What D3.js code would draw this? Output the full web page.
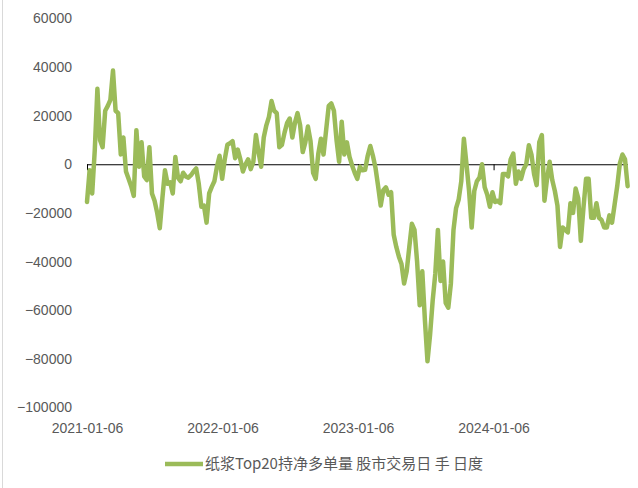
<!DOCTYPE html>
<html>
<head>
<meta charset="utf-8">
<script src="https://cdn.jsdelivr.net/npm/d3@7"></script>
<style>
    body { margin: 0; background: #fff; }
    text { font-family: "Liberation Sans", Arial, sans-serif; fill: #595959; }
</style>
</head>
<body>
<svg id="chart" width="638" height="488"></svg>
<script>
// Series name (legend)
var seriesName = "纸浆Top20持净多单量 股市交易日 手 日度";

// Weekly readings, starting 2021-01-06
var startDate = "2021-01-06";
var endDate = "2025-01-02";
var stepDays = 7;
var netLong = [
    -15500, -2500, -12000, 6000, 31000, 10000, 7000, 22000, 24000, 26500,
    38500, 22000, 21000, 4000, 11000, -3000, -6000, -9000, -13000, 14000,
    -1000, 9000, -5000, -6500, 7000, -12000, -15000, -20000, -26300, -14000,
    -2500, -8000, -7400, -12000, 3000, -5500, -7000, -3500, -5000, -5500,
    -4500, -3000, -1700, -8000, -17500, -17000, -24000, -12000, -9300, -7000,
    -1000, 3500, -6000, 2000, 8000, 8600, 9500, 2500, 6000, 2000,
    -3000, 0, 2000, -2000, 1000, 12000, 5000, -1000, 11000, 16000,
    19500, 26000, 22000, 21000, 7000, 8000, 13000, 17000, 18800, 11000,
    17000, 21000, 16000, 5000, 9000, 15500, 9500, -3500, -6000, 4400,
    10500, 4000, 14000, 24000, 25000, 22000, 10000, 1000, 17500, 4000,
    9000, 3000, -500, -3500, -6000, -1000, -2500, -2300, 3500, 7500,
    3500, -1500, -9000, -17000, -10700, -9500, -12500, -11500, -29000, -34000,
    -38000, -41000, -49000, -44000, -34000, -24500, -27000, -40000, -58000, -44000,
    -64000, -81000, -70000, -56000, -45000, -27000, -48000, -40000, -57000, -59000,
    -49000, -27000, -18000, -14500, -7000, 10500, 0, -11000, -26000, -11000,
    -7000, -5500, 0, -9500, -12500, -17500, -11500, -15500, -15000, -16000,
    -4000, -4000, -5000, 2000, 4400, -8000, -3000, -6000, -2000, 0,
    7800, 4000, -4000, -8600, 9000, 12000, -15000, -6000, 1000, -6500,
    -11000, -17000, -34000, -26000, -27000, -28000, -16000, -20000, -10000, -14000,
    -31500, -18000, -6000, -6000, -22000, -22000, -16000, -22000, -23000, -26000,
    -26000, -21000, -24000, -16500, -9000, 300, 4000, 2000, -9000
];

// Axis ticks
var yTicks = [-100000, -80000, -60000, -40000, -20000, 0, 20000, 40000, 60000];
var xTickLabels = ["2021-01-06", "2022-01-06", "2023-01-06", "2024-01-06"];

var parseDate = d3.timeParse("%Y-%m-%d");
var t0 = parseDate(startDate);

// Build point list
var points = netLong.map(function (v, i) {
    return { date: d3.timeDay.offset(t0, i * stepDays), value: v };
});

var svg = d3.select("#chart");

var x = d3.scaleTime()
    .domain([t0, parseDate(endDate)])
    .range([87, 628]);

var y = d3.scaleLinear()
    .domain([-100000, 60000])
    .range([407.5, 18.3]);

// Chart border (left edge only visible)
svg.append("line")
    .attr("x1", 2.5).attr("x2", 2.5)
    .attr("y1", 0).attr("y2", 488)
    .attr("stroke", "#d9d9d9");

// Y axis labels
var yAxis = d3.axisLeft(y)
    .tickValues(yTicks)
    .tickSize(0)
    .tickPadding(0)
    .tickFormat(d3.format("d"));

svg.append("g")
    .attr("transform", "translate(72,0)")
    .call(yAxis)
    .call(function (g) { g.select(".domain").remove(); })
    .selectAll("text")
    .style("font-size", "14px")
    .style("font-family", "'Liberation Sans', Arial, sans-serif")
    .attr("fill", "#595959");

var xTickDates = xTickLabels.map(parseDate);

// Zero line with tick marks
var zeroAxis = d3.axisBottom(x)
    .tickValues(xTickDates)
    .tickSize(6)
    .tickFormat("");

svg.append("g")
    .attr("transform", "translate(0," + y(0) + ")")
    .call(zeroAxis)
    .call(function (g) {
        g.select(".domain").attr("d", "M" + x.range()[0] + ",0.5H" + x.range()[1]).attr("stroke", "#000");
        g.selectAll(".tick line").attr("stroke", "#000");
    });

// X labels at the bottom
var labelAxis = d3.axisBottom(x)
    .tickValues(xTickDates)
    .tickSize(0)
    .tickPadding(0)
    .tickFormat(function (d, i) { return xTickLabels[i]; });

svg.append("g")
    .attr("transform", "translate(0,423)")
    .call(labelAxis)
    .call(function (g) { g.select(".domain").remove(); })
    .selectAll("text")
    .style("font-size", "14px")
    .style("font-family", "'Liberation Sans', Arial, sans-serif")
    .attr("fill", "#595959");

// The series line
var line = d3.line()
    .x(function (d) { return x(d.date); })
    .y(function (d) { return y(d.value); });

svg.append("path")
    .datum(points)
    .attr("d", line)
    .attr("fill", "none")
    .attr("stroke", "#9bbb59")
    .attr("stroke-width", 4.5)
    .attr("stroke-linejoin", "round")
    .attr("stroke-linecap", "round");

// Legend
var legend = svg.append("g").attr("transform", "translate(165,464)");
legend.append("line")
    .attr("x1", 0).attr("x2", 38)
    .attr("stroke", "#9bbb59")
    .attr("stroke-width", 4.5);
legend.append("text")
    .attr("x", 40)
    .attr("dy", "0.35em")
    .style("font-size", "15px")
    .style("font-family", "'Noto Sans CJK SC', 'Noto Sans', sans-serif")
    .text(seriesName);
</script>
</body>
</html>
